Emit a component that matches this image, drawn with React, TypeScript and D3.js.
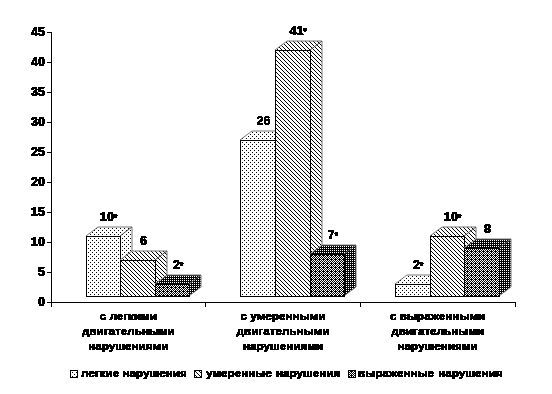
import React from "react";
import * as d3 from "d3";

const categories = [
  ["с легкими", "двигательными", "нарушениями"],
  ["с умеренными", "двигательными", "нарушениями"],
  ["с выраженными", "двигательными", "нарушениями"],
];
const seriesNames = ["легкие нарушения", "умеренные нарушения", "выраженные нарушения"];
const lightValues = [10, 26, 2];
const moderateValues = [6, 41, 10];
const severeValues = [2, 7, 8];
const labelsLight = ["10*", "26", "2*"];
const labelsModerate = ["6", "41*", "10*"];
const labelsSevere = ["2*", "7*", "8"];
const yTicks = [0, 5, 10, 15, 20, 25, 30, 35, 40, 45];

const W = 552, H = 394;
const FONT = "'Liberation Sans', Arial, sans-serif";
const y = d3.scaleLinear().domain([0, 45]).range([302, 32]);
const x0 = d3.scaleBand<number>().domain([0, 1, 2]).range([51, 515]);
const x1 = d3.scaleBand<number>().domain([0, 1, 2]).range([34.5, 34.5 + 104]);
const FLOOR = 1; // bars float one unit above the axis
const DX = 12, DY = 9;

const seriesValues = [lightValues, moderateValues, severeValues];
const seriesLabels = [labelsLight, labelsModerate, labelsSevere];
const frontFill = ["url(#dots)", "url(#hatch)", "url(#dark)"];
const sideFill = ["url(#dots)", "url(#hatch)", "url(#darkSide)"];

const P = (pts: [number, number][]) => pts.map((p) => p.join(",")).join(" ");

function Bar({ c, s }: { c: number; s: number }) {
  const v = seriesValues[s][c];
  const left = Math.round(x0(c)! + x1(s)!);
  const right = Math.round(x0(c)! + x1(s)! + x1.bandwidth());
  const base = Math.round(y(FLOOR));
  const top = Math.round(y(v + FLOOR));
  return (
    <g shapeRendering="crispEdges">
      <polygon points={P([[left, top], [right, top], [right + DX, top - DY], [left + DX, top - DY]])} fill={sideFill[s]} />
      <polygon points={P([[right, top], [right + DX, top - DY], [right + DX, base - DY], [right, base]])} fill={sideFill[s]} />
      <path d={`M${left},${top}L${left + DX},${top - DY}L${right + DX},${top - DY}L${right + DX},${base - DY}L${right},${base}`}
        fill="none" stroke="#777" strokeWidth={1} shapeRendering="auto" />
      <line x1={right} y1={top} x2={right + DX} y2={top - DY} stroke="#555" shapeRendering="auto" />
      <rect x={left} y={top} width={right - left} height={base - top} fill={frontFill[s]} stroke="#000" strokeWidth={1} />
    </g>
  );
}

function Label({ text, x, yPos }: { text: string; x: number; yPos: number }) {
  const star = text.endsWith("*");
  return (
    <text x={x} y={yPos} textAnchor="middle" fontSize={12.5}>
      {star ? text.slice(0, -1) : text}
      {star ? <tspan fontSize={9} dy={-1}>*</tspan> : null}
    </text>
  );
}

export default function App() {
  return (
    <svg width={W} height={H} style={{ position: "absolute", left: 0, top: 0, background: "#fff" }}
      fontFamily={FONT} fontWeight="bold" fontSize={11.7} fill="#000">
      <defs>
        <filter id="aliased" x="-5%" y="-20%" width="110%" height="140%">
          <feComponentTransfer>
            <feFuncA type="discrete" tableValues="0 0 1 1 1" />
          </feComponentTransfer>
        </filter>
        <pattern id="dots" width={4} height={4} patternUnits="userSpaceOnUse">
          <rect width={4} height={4} fill="#fff" />
          <rect x={0} y={0} width={1} height={1} fill="#000" />
          <rect x={2} y={2} width={1} height={1} fill="#000" />
        </pattern>
        <pattern id="hatch" width={4} height={4} patternUnits="userSpaceOnUse">
          <rect width={4} height={4} fill="#fff" />
          {[0, 1, 2, 3].map((i) => <rect key={i} x={i} y={i} width={1} height={1} fill="#000" />)}
        </pattern>
        <pattern id="dark" width={4} height={4} patternUnits="userSpaceOnUse">
          <rect width={4} height={4} fill="#000" />
          {[[0, 0], [2, 0], [1, 1], [3, 1], [0, 2], [2, 2], [1, 3]].map(([a, b], i) => (
            <rect key={i} x={a} y={b} width={1} height={1} fill="#fff" />
          ))}
        </pattern>
        <pattern id="darkSide" width={2} height={2} patternUnits="userSpaceOnUse">
          <rect width={2} height={2} fill="#000" />
          <rect x={0} y={0} width={1} height={1} fill="#fff" />
        </pattern>
      </defs>

      {/* bars */}
      {categories.map((_, c) => (
        <g key={c}>{seriesNames.map((_, s) => <Bar key={s} c={c} s={s} />)}</g>
      ))}

      {/* axes */}
      <g shapeRendering="crispEdges" stroke="#000">
        <line x1={51} x2={51} y1={y(45)} y2={307} />
        <line x1={51} x2={515} y1={y(0)} y2={y(0)} />
        {yTicks.map((t) => <line key={t} x1={47} x2={51} y1={y(t)} y2={y(t)} />)}
        {[0, 1, 2].map((c) => <line key={c} x1={x0(c)!} x2={x0(c)!} y1={y(0)} y2={307} />)}
        <line x1={515} x2={515} y1={y(0)} y2={307} />
      </g>

      <g filter="url(#aliased)" stroke="#000" strokeWidth={0.6}>
        {yTicks.map((t) => (
          <text key={t} x={45} y={y(t) + 4} textAnchor="end" fontSize={12.5}>{t}</text>
        ))}
        {categories.map((lines, c) => lines.map((l, i) => (
          <text key={i} x={x0(c)! + x0.bandwidth() / 2} y={320 + i * 15} textAnchor="middle">{l}</text>
        )))}
        {categories.map((_, c) => seriesNames.map((_, s) => (
          <Label key={s} text={seriesLabels[s][c]} x={x0(c)! + x1(s)! + x1.bandwidth() / 2 + DX / 2}
            yPos={y(seriesValues[s][c] + FLOOR) - DY - 6} />
        )))}
        <text x={81} y={377}>{seriesNames[0]}</text>
        <text x={206} y={377} wordSpacing={1}>{seriesNames[1]}</text>
        <text x={358} y={377} wordSpacing={1}>{seriesNames[2]}</text>
      </g>

      {/* legend keys */}
      <g shapeRendering="crispEdges">
        <rect x={70} y={370} width={7} height={7} fill="url(#dots)" stroke="#000" />
        <rect x={194} y={370} width={7} height={7} fill="url(#hatch)" stroke="#000" />
        <rect x={348} y={370} width={7} height={7} fill="url(#dark)" stroke="#000" />
      </g>
    </svg>
  );
}
